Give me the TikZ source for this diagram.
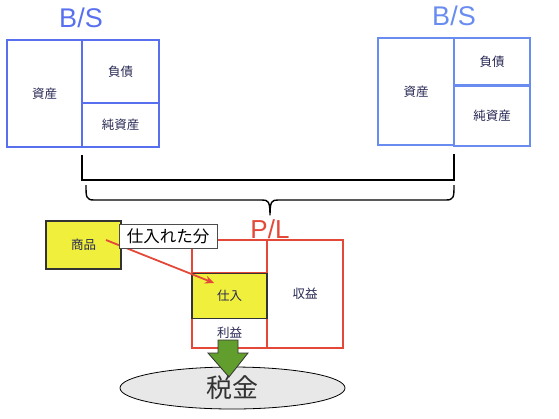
\documentclass[tikz,border=0pt]{standalone}
\usepackage{fontspec}
\setmainfont{Liberation Sans}
\newfontfamily\jp{Noto Sans CJK JP}
\usetikzlibrary{arrows.meta,shapes.geometric}
\definecolor{bsblue}{RGB}{88,112,240}
\definecolor{bsblueR}{RGB}{104,140,240}
\definecolor{plred}{RGB}{228,72,56}
\definecolor{yel}{RGB}{240,240,60}
\definecolor{navy}{RGB}{40,40,84}
\definecolor{grn}{RGB}{98,158,46}
\definecolor{ellgray}{RGB}{232,232,232}
\tikzset{
  box/.style={draw, line width=2pt, inner sep=0pt, outer sep=0pt, text=navy,
    font=\jp\fontsize{12.5}{14}\selectfont},
  bsbox/.style={box, draw=bsblue},
  bsboxR/.style={box, draw=bsblueR},
  plbox/.style={box, draw=plred, line width=1.6pt},
  ybox/.style={box, draw=black!80, fill=yel, line width=1.6pt},
  title/.style={font=\fontsize{27}{30}\selectfont, inner sep=0pt},
}
\begin{document}
\begin{tikzpicture}[x=1pt,y=-1pt]
\useasboundingbox (0,0) rectangle (559,418);
% left B/S
\node[title, text=bsblue] (bsL) at (81,18) {B/S};
\node[bsbox, minimum width=75, minimum height=107] (asL) at (44.5,93.5) {資産};
\node[bsbox, minimum width=77, minimum height=63] (liL) at (120.5,71.5) {負債};
\node[bsbox, minimum width=77, minimum height=44] (eqL) at (120.5,125) {純資産};
% right B/S
\node[title, text=bsblueR] (bsR) at (454,16) {B/S};
\node[bsboxR, minimum width=76, minimum height=107] (asR) at (416,91.5) {資産};
\node[bsboxR, minimum width=76, minimum height=47] (liR) at (492,61.5) {負債};
\node[bsboxR, minimum width=76, minimum height=60] (eqR) at (492,115.5) {純資産};
% bracket
\coordinate (t1) at (82,155);
\coordinate (t2) at (82,180);
\coordinate (t3) at (454,180);
\coordinate (t4) at (454,154);
\draw[line width=1.6pt] (t1) -- (t2) -- (t3) -- (t4);
\coordinate (b1) at (86,185);
\coordinate (b2) at (454,185);
\coordinate (btip) at (270,215);
\draw[line width=1.4pt, line join=round]
  (b1) .. controls (86,197) and (86,200) .. (94,200) -- (262,200)
  .. controls (268,200) and (270,201) .. (btip)
  .. controls (270,201) and (272,200) .. (278,200) -- (446,200)
  .. controls (454,200) and (454,197) .. (b2);
% P/L
\node[title, text=plred, font=\fontsize{26}{28}\selectfont] (plt) at (270,229) {P/L};
\node[plbox, minimum width=75, minimum height=33] (plE) at (229.5,256.5) {};
\node[plbox, minimum width=76, minimum height=108] (rev) at (305,294) {収益};
\node[plbox, minimum width=75, minimum height=30] (prof) at (229.5,333) {利益};
\node[ybox, minimum width=75, minimum height=45] (shi) at (229.5,296) {仕入};
% goods
\node[ybox, minimum width=75, minimum height=48] (goods) at (83.5,245) {商品};
\coordinate (aS) at (106,240);
\coordinate (aE) at (214,283);
\draw[plred, line width=1.8pt, -{Stealth[length=9pt,width=8pt]}] (aS) -- (aE);
\node[draw=black!70, fill=white, line width=0.6pt, inner sep=1.5pt, font=\jp\fontsize{16.5}{18}\selectfont, minimum height=24, minimum width=98] (lab) at (168,236.5) {仕入れた分};
% tax
\node[draw=black, fill=ellgray, ellipse, minimum width=225, minimum height=42, line width=0.8pt, inner sep=0pt] (tax) at (232.5,388) {};
\draw[fill=grn, draw=black!80, line width=0.8pt]
  (218,340) -- (238,340) -- (238,353) -- (248,353) -- (229,377) -- (208,353) -- (218,353) -- cycle;
\node[text=black!80, font=\jp\fontsize{26}{28}\selectfont, inner sep=0pt] (taxt) at (tax.center) {税金};
\end{tikzpicture}
\end{document}
